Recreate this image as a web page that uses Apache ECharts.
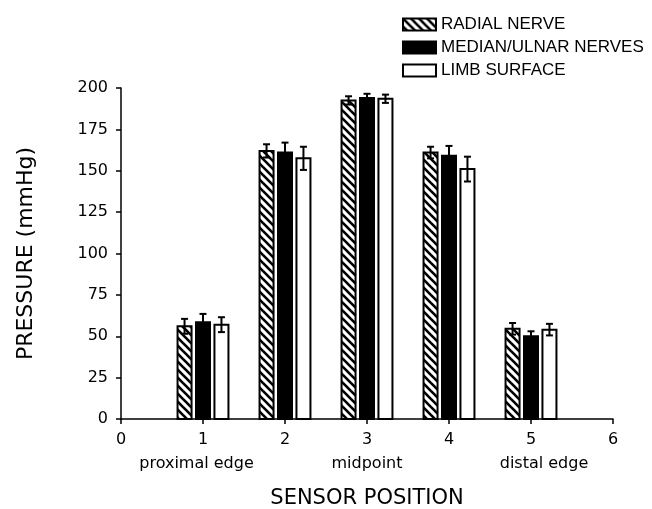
<!DOCTYPE html>
<html><head><meta charset="utf-8">
<script src="https://cdn.jsdelivr.net/npm/echarts@6/dist/echarts.min.js"></script>
<style>html,body{margin:0;padding:0;background:#fff}#c{width:652px;height:509px}</style>
</head><body><div id="c"></div>
<script>
const positions = [1, 2, 3, 4, 5];
const seriesNames = ['RADIAL NERVE', 'MEDIAN/ULNAR NERVES', 'LIMB SURFACE'];
const radial = [56, 162, 192.5, 161, 54.5];
const radialErr = [4.5, 4, 2.5, 3.5, 3.5];
const median = [58.5, 161, 194, 159, 50];
const medianErr = [5, 6, 2.5, 6, 3];
const limb = [57, 157.5, 193.5, 151, 54];
const limbErr = [4.5, 7, 2.5, 7.5, 3.5];
const xTickLabels = ['0', '1', '2', '3', '4', '5', '6'];
const xSubLabels = ['', 'proximal edge', '', 'midpoint', '', 'distal edge', ''];
const yTickLabels = ['0', '25', '50', '75', '100', '125', '150', '175', '200'];

// hatch pattern "\\\"
const p = 8;
const cv = document.createElement('canvas');
cv.width = p; cv.height = p;
const ctx = cv.getContext('2d');
ctx.fillStyle = '#fff'; ctx.fillRect(0, 0, p, p);
ctx.strokeStyle = '#000'; ctx.lineWidth = 2.6;
for (let k = -1; k <= 1; k++) {
  ctx.beginPath(); ctx.moveTo(k * p - 1, -1); ctx.lineTo(k * p + p + 1, p + 1); ctx.stroke();
}
const hatch = { image: cv, repeat: 'repeat' };

function makeSeries(name, vals, errs, offset, fill) {
  return {
    type: 'custom',
    name: name,
    itemStyle: { color: fill, borderColor: '#000', borderWidth: 2 },
    data: positions.map((q, i) => [q, vals[i], errs[i]]),
    encode: { x: 0, y: 1 },
    renderItem: function (params, api) {
      const x = api.value(0) + offset, v = api.value(1), e = api.value(2);
      const base = api.coord([x, 0]), top = api.coord([x, v]);
      const hi = api.coord([x, v + e]), lo = api.coord([x, v - e]);
      const w = 14, cw = 7;
      return {
        type: 'group',
        children: [
          { type: 'rect', shape: { x: base[0] - w / 2, y: top[1], width: w, height: base[1] - top[1] },
            style: { fill: fill, stroke: '#000', lineWidth: 2 } },
          { type: 'line', shape: { x1: hi[0], y1: hi[1], x2: lo[0], y2: lo[1] }, style: { stroke: '#000', lineWidth: 2 } },
          { type: 'line', shape: { x1: hi[0] - cw / 2, y1: hi[1], x2: hi[0] + cw / 2, y2: hi[1] }, style: { stroke: '#000', lineWidth: 2 } },
          { type: 'line', shape: { x1: lo[0] - cw / 2, y1: lo[1], x2: lo[0] + cw / 2, y2: lo[1] }, style: { stroke: '#000', lineWidth: 2 } }
        ]
      };
    }
  };
}

const chart = echarts.init(document.getElementById('c'), null, { renderer: 'canvas' });
const fills = [hatch, '#000', '#fff'];
chart.setOption({
  animation: false,
  backgroundColor: '#fff',
  grid: { left: 121, right: 39, top: 88, bottom: 90, containLabel: false, outerBoundsMode: 'none' },
  legend: {
    orient: 'vertical', left: 397, top: 11, itemWidth: 33, itemHeight: 12, itemGap: 6,
    icon: 'rect', selectedMode: false,
    textStyle: { fontFamily: 'Liberation Sans', fontSize: 17, color: '#000' },
    data: seriesNames.map((n, i) => ({ name: n, itemStyle: { color: fills[i], borderColor: '#000', borderWidth: 2 } }))
  },
  xAxis: {
    type: 'value', min: 0, max: 6, interval: 1,
    name: 'SENSOR POSITION', nameLocation: 'middle', nameGap: 69, nameMoveOverlap: false,
    nameTextStyle: { fontFamily: 'DejaVu Sans', fontSize: 21, color: '#000' },
    splitLine: { show: false },
    axisLine: { show: true, onZero: false, lineStyle: { color: '#000', width: 1.5 } },
    axisTick: { show: true, length: 5, lineStyle: { color: '#000', width: 1.5 } },
    axisLabel: {
      margin: 10, color: '#000', fontFamily: 'DejaVu Sans', fontSize: 16, lineHeight: 22,
      formatter: function (v) {
        const i = Math.round(v);
        const s = xSubLabels[i];
        return xTickLabels[i] + (s ? '\n{s' + i + '|' + s + '}' : '');
      },
      rich: {
        s1: { fontFamily: 'DejaVu Sans', fontSize: 16, lineHeight: 26, color: '#000', padding: [0, 13, 0, 0] },
        s3: { fontFamily: 'DejaVu Sans', fontSize: 16, lineHeight: 26, color: '#000' },
        s5: { fontFamily: 'DejaVu Sans', fontSize: 16, lineHeight: 26, color: '#000', padding: [0, 0, 0, 26] }
      }
    }
  },
  yAxis: {
    type: 'value', min: 0, max: 200, interval: 25,
    name: 'PRESSURE (mmHg)', nameLocation: 'middle', nameGap: 84, nameMoveOverlap: false,
    nameTextStyle: { fontFamily: 'DejaVu Sans', fontSize: 22, color: '#000' },
    splitLine: { show: false },
    axisLine: { show: true, lineStyle: { color: '#000', width: 1.5 } },
    axisTick: { show: true, length: 5, lineStyle: { color: '#000', width: 1.5 } },
    axisLabel: {
      margin: 13, color: '#000', fontFamily: 'DejaVu Sans', fontSize: 16,
      formatter: function (v) { return yTickLabels[Math.round(v / 25)]; }
    }
  },
  series: [
    makeSeries(seriesNames[0], radial, radialErr, -0.225, hatch),
    makeSeries(seriesNames[1], median, medianErr, 0, '#000'),
    makeSeries(seriesNames[2], limb, limbErr, 0.225, '#fff')
  ]
});
</script>
</body></html>
